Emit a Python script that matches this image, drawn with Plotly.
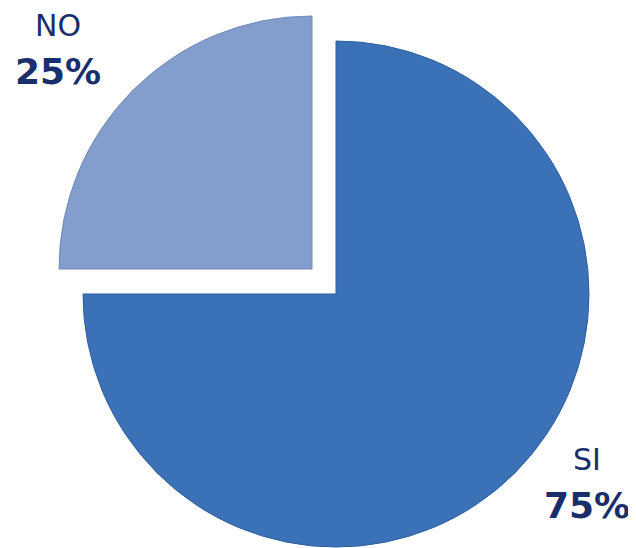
import plotly.graph_objects as go

# Data
labels = ["SI", "NO"]
values = [75, 25]
colors = ["#3A71B7", "#839DCC"]
edge_colors = ["#2E5E9E", "#6F88B8"]
text_color = "#1A2E6C"

# The page body has an 8px margin; work in screen pixels and convert.
OFF = 8
W, H = 636 - OFF, 548 - OFF

# Screen-pixel centers / radius of the two pieces (NO piece is "exploded")
R = 253
centers = {"SI": (336, 294), "NO": (312, 269)}


def domain_for(cx, cy, r):
    cx -= OFF
    cy -= OFF
    return dict(
        x=[max(0, (cx - r) / W), min(1, (cx + r) / W)],
        y=[max(0, (H - cy - r) / H), min(1, (H - cy + r) / H)],
    )


fig = go.Figure()
for i, lab in enumerate(labels):
    cols = [colors[j] if j == i else "rgba(0,0,0,0)" for j in range(len(labels))]
    lcols = [edge_colors[j] if j == i else "rgba(0,0,0,0)" for j in range(len(labels))]
    cx, cy = centers[lab]
    fig.add_trace(go.Pie(
        labels=labels,
        values=values,
        sort=False,
        direction="clockwise",
        rotation=0,
        marker=dict(colors=cols, line=dict(width=1, color=lcols)),
        textinfo="none",
        hoverinfo="label+percent",
        showlegend=False,
        domain=domain_for(cx, cy, R),
    ))

total = sum(values)
pct = {lab: f"{round(v / total * 100)}%" for lab, v in zip(labels, values)}

# (x centre, label y centre, percent y centre) in screen pixels
label_pos = {"NO": (58, 26, 71), "SI": (587, 459, 505)}
annotations = []
for lab in labels:
    x, y_lab, y_pct = label_pos[lab]
    x -= OFF
    y_lab -= OFF
    y_pct -= OFF
    annotations.append(dict(
        x=x / W, y=1 - y_lab / H, xref="paper", yref="paper",
        text=lab, showarrow=False, xanchor="center", yanchor="middle",
        borderpad=0,
        font=dict(family="DejaVu Sans", size=30, color=text_color),
    ))
    annotations.append(dict(
        x=x / W, y=1 - y_pct / H, xref="paper", yref="paper",
        text=f"<b>{pct[lab]}</b>", showarrow=False, xanchor="center", yanchor="middle",
        borderpad=0,
        font=dict(family="DejaVu Sans", size=36, color=text_color),
    ))

fig.update_layout(
    width=W, height=H,
    margin=dict(l=0, r=0, t=0, b=0),
    paper_bgcolor="white",
    plot_bgcolor="white",
    annotations=annotations,
)

fig.write_html("out.html")
